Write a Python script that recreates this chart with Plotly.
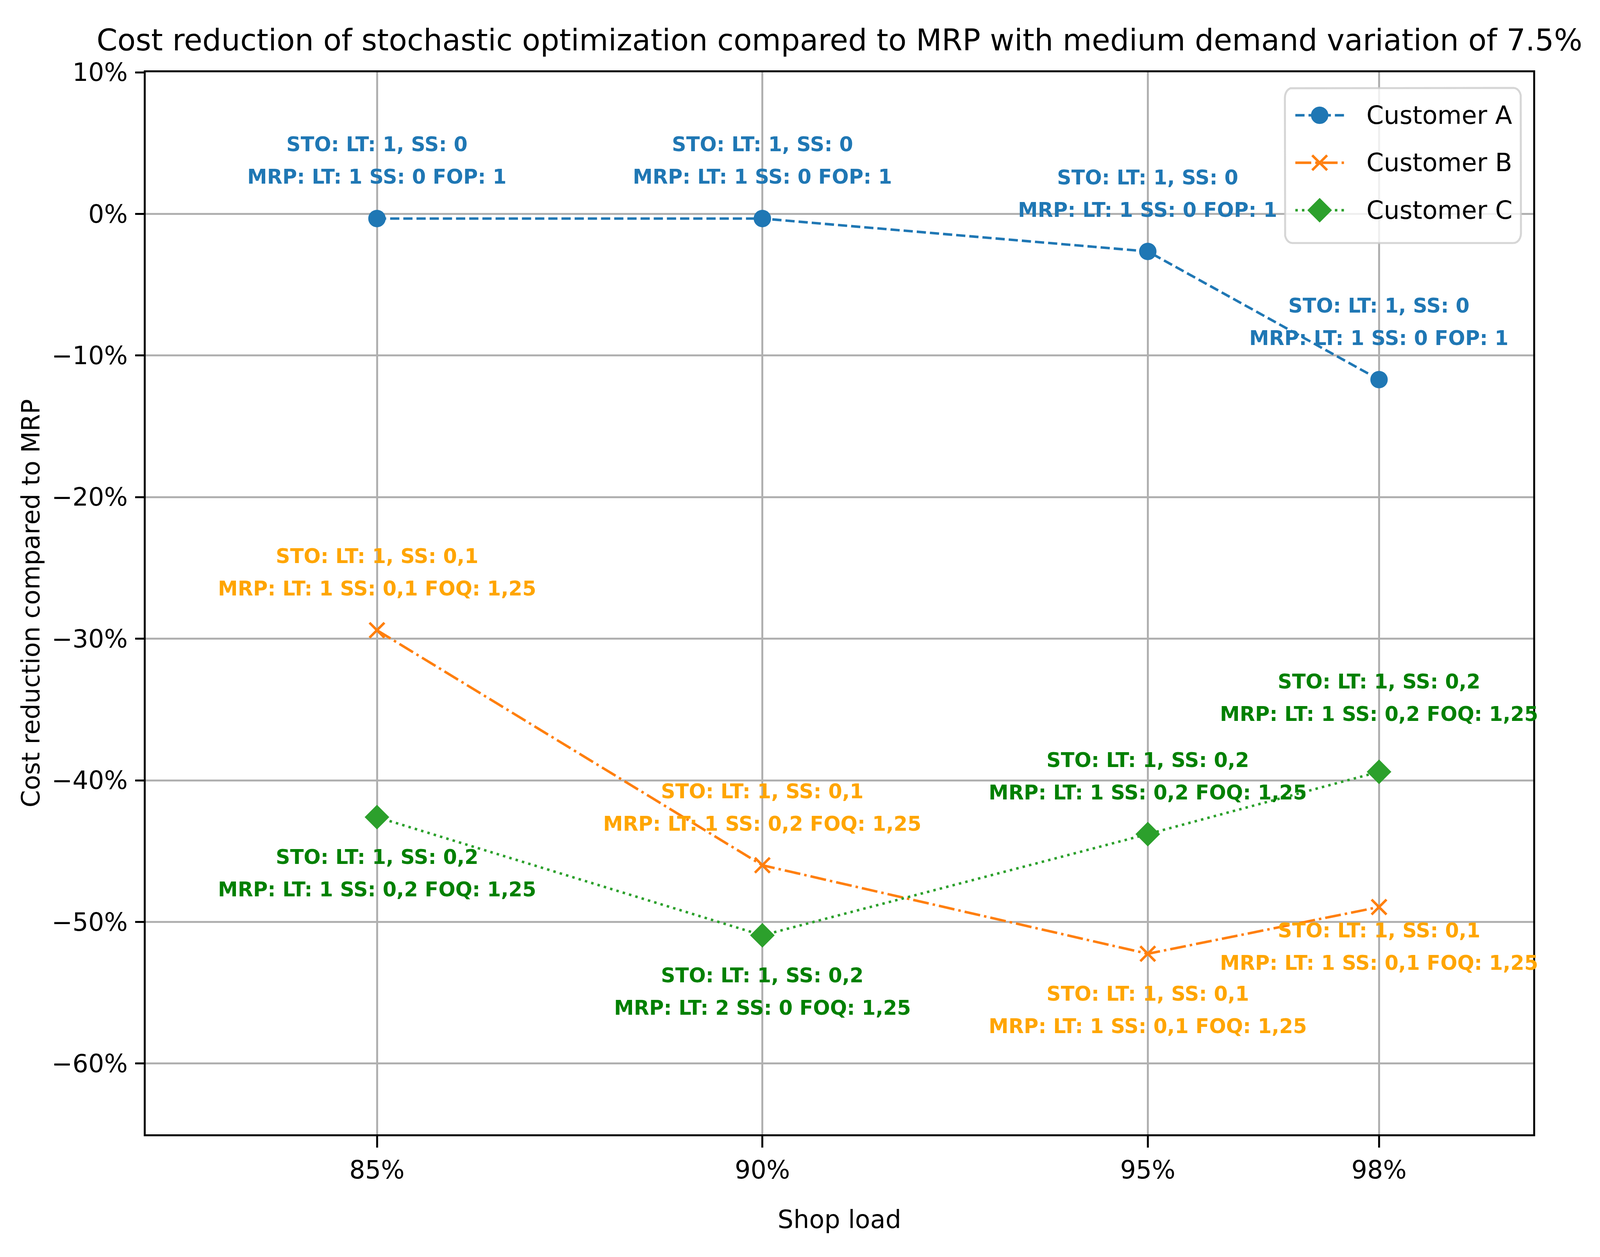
import math
import plotly.graph_objects as go

# ---------------- data ----------------
shop_load = [85, 90, 95, 98]
shop_load_labels = ["85%", "90%", "95%", "98%"]
y_tick_values = [-60, -50, -40, -30, -20, -10, 0, 10]
y_tick_labels = ["\u221260%", "\u221250%", "\u221240%", "\u221230%", "\u221220%", "\u221210%", "0%", "10%"]

series_names = ["Customer A", "Customer B", "Customer C"]
customer_a = [-0.33, -0.33, -2.65, -11.7]
customer_b = [-29.4, -46.0, -52.25, -48.95]
customer_c = [-42.6, -50.95, -43.8, -39.4]

sto_a = ["STO: LT: 1, SS: 0"] * 4
mrp_a = ["MRP: LT: 1 SS: 0 FOP: 1"] * 4
sto_b = ["STO: LT: 1, SS: 0,1"] * 4
mrp_b = ["MRP: LT: 1 SS: 0,1 FOQ: 1,25", "MRP: LT: 1 SS: 0,2 FOQ: 1,25",
         "MRP: LT: 1 SS: 0,1 FOQ: 1,25", "MRP: LT: 1 SS: 0,1 FOQ: 1,25"]
sto_c = ["STO: LT: 1, SS: 0,2"] * 4
mrp_c = ["MRP: LT: 1 SS: 0,2 FOQ: 1,25", "MRP: LT: 2 SS: 0 FOQ: 1,25",
         "MRP: LT: 1 SS: 0,2 FOQ: 1,25", "MRP: LT: 1 SS: 0,2 FOQ: 1,25"]

# label offsets (points, + above / - below, baseline of last line)
off_a = [10, 10, 10, 10]
off_b = [10, 10, -25, -20]
off_c = [-25, -25, 10, 15]

# ---------------- styling ----------------
PT = 600 / 72  # px per point
W, H = 5361, 3217
L, R, T, B = 488, 224, 185, 314
PW, PH = W - L - R, H - T - B
FONT = "DejaVu Sans"
BLUE, ORANGE, GREEN = "#1f77b4", "#ff7f0e", "#2ca02c"
LW = 1.0 * PT

styles = [
    dict(color=BLUE, dash=f"{3.7*PT:.2f}px,{1.6*PT:.2f}px", symbol="circle", size=6 * PT),
    dict(color=ORANGE, dash=f"{6.4*PT:.2f}px,{1.6*PT:.2f}px,{1.0*PT:.2f}px,{1.6*PT:.2f}px",
         symbol="x-thin", size=6 * PT),
    dict(color=GREEN, dash=f"{1.0*PT:.2f}px,{1.65*PT:.2f}px", symbol="diamond",
         size=6 * PT * 1.414 / 1.3),
]

fig = go.Figure()
for name, ys, st in zip(series_names, [customer_a, customer_b, customer_c], styles):
    fig.add_trace(go.Scatter(
        x=shop_load, y=ys, name=name, mode="lines+markers", showlegend=False,
        line=dict(color=st["color"], width=LW, dash=st["dash"]),
        marker=dict(symbol=st["symbol"], size=st["size"], color=st["color"],
                    line=dict(color=st["color"], width=PT)),
    ))

ANN_SIZE = 8 * PT
LINE_GAP = 83
MID = 0.346 * ANN_SIZE


def add_labels(xs, ys, l1, l2, offs, color):
    for x, y, t1, t2, o in zip(xs, ys, l1, l2, offs):
        base = o * PT
        for txt, shift in ((t2, base + MID), (t1, base + LINE_GAP + MID)):
            fig.add_annotation(
                x=x, y=y, xref="x", yref="y", text=txt, showarrow=False,
                xanchor="center", yanchor="middle", yshift=shift,
                font=dict(family=FONT, size=ANN_SIZE, color=color, weight="bold"),
            )


add_labels(shop_load, customer_a, sto_a, mrp_a, off_a, BLUE)
add_labels(shop_load, customer_b, sto_b, mrp_b, off_b, "#ffa500")
add_labels(shop_load, customer_c, sto_c, mrp_c, off_c, "#008000")

# ---------------- legend (matplotlib-like, upper right) ----------------
def fx(px):
    return (px - L) / PW


def fy(py):
    return (H - B - py) / PH


LEG_BOX = (4305, 225, 5096, 622)     # left, top, right, bottom (px)
LEG_ROW0, LEG_STEP = 295, 121.5
LEG_LINE = (4340, 4503)
LEG_TEXT_X = 4576
LEG_RAD = 25

bx0, by1, bx1, by0 = fx(LEG_BOX[0]), fy(LEG_BOX[1]), fx(LEG_BOX[2]), fy(LEG_BOX[3])
rx, ry = LEG_RAD / PW, LEG_RAD / PH
box_x, box_y = [], []
for cx, cy, a0 in ((bx1 - rx, by0 + ry, 270), (bx1 - rx, by1 - ry, 0),
                   (bx0 + rx, by1 - ry, 90), (bx0 + rx, by0 + ry, 180)):
    for j in range(7):
        a = math.radians(a0 + 15 * j)
        box_x.append(cx + rx * math.cos(a))
        box_y.append(cy + ry * math.sin(a))
box_x.append(box_x[0])
box_y.append(box_y[0])
fig.add_trace(go.Scatter(
    x=box_x, y=box_y, mode="lines", fill="toself", xaxis="x2", yaxis="y2",
    fillcolor="rgba(255,255,255,0.8)", showlegend=False, hoverinfo="skip",
    line=dict(color="rgba(204,204,204,0.8)", width=0.8 * PT),
))

for i, (name, st) in enumerate(zip(series_names, styles)):
    yy = fy(LEG_ROW0 + i * LEG_STEP)
    fig.add_trace(go.Scatter(
        x=[fx(LEG_LINE[0]), fx(LEG_LINE[1])], y=[yy, yy], mode="lines",
        xaxis="x2", yaxis="y2", showlegend=False, hoverinfo="skip",
        line=dict(color=st["color"], width=LW, dash=st["dash"]),
    ))
    fig.add_trace(go.Scatter(
        x=[fx((LEG_LINE[0] + LEG_LINE[1]) / 2)], y=[yy], mode="markers",
        xaxis="x2", yaxis="y2", showlegend=False, hoverinfo="skip",
        marker=dict(symbol=st["symbol"], size=st["size"], color=st["color"],
                    line=dict(color=st["color"], width=PT)),
    ))
    fig.add_annotation(
        x=fx(LEG_TEXT_X), y=yy, xref="paper", yref="paper", text=name,
        showarrow=False, xanchor="left", yanchor="middle",
        font=dict(family=FONT, size=10 * PT, color="black"),
    )

# ---------------- axes ----------------
axis_common = dict(
    showline=True, linecolor="black", linewidth=0.8 * PT, mirror=True,
    ticks="outside", ticklen=3.5 * PT, tickwidth=0.8 * PT, tickcolor="black",
    showgrid=True, gridcolor="#b0b0b0", gridwidth=0.8 * PT, zeroline=False,
    tickfont=dict(family=FONT, size=10 * PT, color="black"),
    title_font=dict(family=FONT, size=10 * PT, color="black"),
    automargin=False,
)

fig.update_layout(
    xaxis=dict(range=[82, 100], tickmode="array", tickvals=shop_load,
               ticktext=shop_load_labels, title_text="Shop load",
               title_standoff=70, ticklabelstandoff=2, **axis_common),
    yaxis=dict(range=[-65, 10], tickmode="array", tickvals=y_tick_values,
               ticktext=y_tick_labels, title_text="Cost reduction compared to MRP",
               title_standoff=15, ticklabelstandoff=8, **axis_common),
    xaxis2=dict(overlaying="x", anchor="y2", range=[0, 1], visible=False, fixedrange=True),
    yaxis2=dict(overlaying="y", anchor="x2", range=[0, 1], visible=False, fixedrange=True),
    width=W, height=H,
    margin=dict(l=L, r=R, t=T, b=B, pad=0),
    paper_bgcolor="white", plot_bgcolor="white",
    font=dict(family=FONT, size=10 * PT, color="black"),
    title=dict(
        text="Cost reduction of stochastic optimization compared to MRP with medium demand variation of 7.5%",
        x=0.5, xref="paper", xanchor="center",
        y=1 - 102 / H, yref="container", yanchor="middle",
        font=dict(family=FONT, size=12 * PT, color="black"),
    ),
    showlegend=False,
)

# Fit the figure to the actual browser viewport (keeps the reference proportions)
fit_js = """
document.documentElement.style.overflow='hidden';
document.body.style.margin='0';
document.body.style.overflow='hidden';
(function(){
var gd=document.getElementById('{plot_id}');
var BW=__W__, BH=__H__;
var vw=window.innerWidth||BW, vh=window.innerHeight||BH;
var sx=Math.min(1,vw/BW), sy=Math.min(1,vh/BH), k=Math.min(sx,sy);
if(sx>=0.999 && sy>=0.999) return;
var Lo=gd.layout, u={};
u.width=Math.floor(BW*sx); u.height=Math.floor(BH*sy);
u['margin.l']=Lo.margin.l*sx; u['margin.r']=Lo.margin.r*sx;
u['margin.t']=Lo.margin.t*sy; u['margin.b']=Lo.margin.b*sy;
u['title.font.size']=Lo.title.font.size*k;
['xaxis','yaxis'].forEach(function(a){
  var ax=Lo[a], f=(a==='xaxis')?sy:sx;
  u[a+'.tickfont.size']=ax.tickfont.size*k;
  u[a+'.title.font.size']=ax.title.font.size*k;
  u[a+'.ticklen']=ax.ticklen*f;
  u[a+'.tickwidth']=ax.tickwidth*k;
  u[a+'.linewidth']=ax.linewidth*k;
  u[a+'.gridwidth']=ax.gridwidth*k;
  u[a+'.ticklabelstandoff']=Math.round(ax.ticklabelstandoff*f);
  u[a+'.title.standoff']=ax.title.standoff*f;
});
(Lo.annotations||[]).forEach(function(an,i){
  u['annotations['+i+'].font.size']=an.font.size*k;
  if(an.yshift) u['annotations['+i+'].yshift']=an.yshift*sy;
});
var widths=[], dashes=[], sizes=[], mlw=[], idx=[];
gd.data.forEach(function(tr,i){
  idx.push(i);
  widths.push(tr.line && tr.line.width!=null ? tr.line.width*k : 2);
  dashes.push(tr.line && typeof tr.line.dash==='string' && tr.line.dash.indexOf('px')>=0 ?
    tr.line.dash.split(',').map(function(s){return (parseFloat(s)*k).toFixed(2)+'px';}).join(',') :
    (tr.line && tr.line.dash ? tr.line.dash : 'solid'));
  sizes.push(tr.marker && tr.marker.size!=null ? tr.marker.size*k : 6);
  mlw.push(tr.marker && tr.marker.line && tr.marker.line.width!=null ? tr.marker.line.width*k : 0);
});
try {
  Plotly.update(gd, {'line.width':widths,'line.dash':dashes,'marker.size':sizes,'marker.line.width':mlw}, u, idx);
} catch(e) {
  Plotly.relayout(gd,u);
}
})();
""".replace("__W__", str(W)).replace("__H__", str(H))

fig.write_html("out.html", config={"displayModeBar": False}, post_script=fit_js)
